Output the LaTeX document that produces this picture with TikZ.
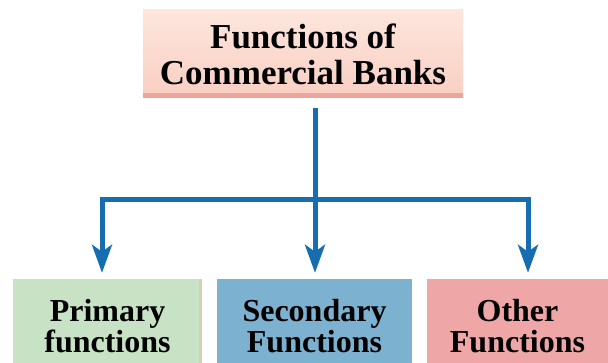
\documentclass[tikz,border=0pt]{standalone}
\usepackage{fontspec}
\setmainfont{Liberation Serif}
\usetikzlibrary{arrows.meta,positioning}

\definecolor{linkblue}{RGB}{22,110,176}
\definecolor{peachtop}{RGB}{253,230,221}
\definecolor{peachbot}{RGB}{249,206,194}
\definecolor{peachrim}{RGB}{238,164,156}
\definecolor{greenbox}{RGB}{199,226,196}
\definecolor{bluebox}{RGB}{125,177,208}
\definecolor{pinkbox}{RGB}{239,166,166}

\begin{document}
\begin{tikzpicture}[
        x=1pt, y=-1pt,
        head/.style={draw=none, top color=peachtop, bottom color=peachbot,
            minimum width=320pt, minimum height=88pt, inner sep=0pt,
            align=center, font=\fontsize{35}{36}\selectfont\bfseries},
        leaf/.style={draw=none, minimum height=94pt, inner sep=0pt,
            align=center, font=\fontsize{32}{31}\selectfont\bfseries},
        link/.style={draw=linkblue, line width=5pt},
        linkarrow/.style={link, -{Stealth[length=28pt, width=20pt, inset=7pt]},
            shorten >=6pt},
    ]
    \useasboundingbox (0,0) rectangle (608,363);
    \clip (0,0) rectangle (608,363);

    % === TOP BOX ===
    \node[head] (fcb) at (303,54) {Functions of\\Commercial Banks};
    \fill[peachrim] ([yshift=5pt]fcb.south west) rectangle (fcb.south east);

    % === BOTTOM BOXES ===
    \node[leaf, fill=greenbox, minimum width=189pt] (primary) at (107.5,326)
        {Primary\\functions};
    \fill[greenbox!60!brown!70] ([xshift=-3pt]primary.north east) rectangle (primary.south east);
    \node[leaf, fill=bluebox, minimum width=195pt] (secondary) at (314.5,326)
        {Secondary\\Functions};
    \node[leaf, fill=pinkbox, minimum width=181pt] (other) at (517.5,326)
        {Other\\Functions};

    % === CONNECTORS ===
    \coordinate (hub) at (315,200);
    \coordinate (lt) at (102,200);
    \coordinate (rt) at (528,200);

    \draw[link] ([yshift=-10pt]fcb.south -| hub) -- (hub);
    \draw[linkarrow] (hub) -| (primary.north -| lt);
    \draw[linkarrow] (hub) -| (other.north -| rt);
    \draw[linkarrow] (hub) -- (secondary.north -| hub);

\end{tikzpicture}
\end{document}
